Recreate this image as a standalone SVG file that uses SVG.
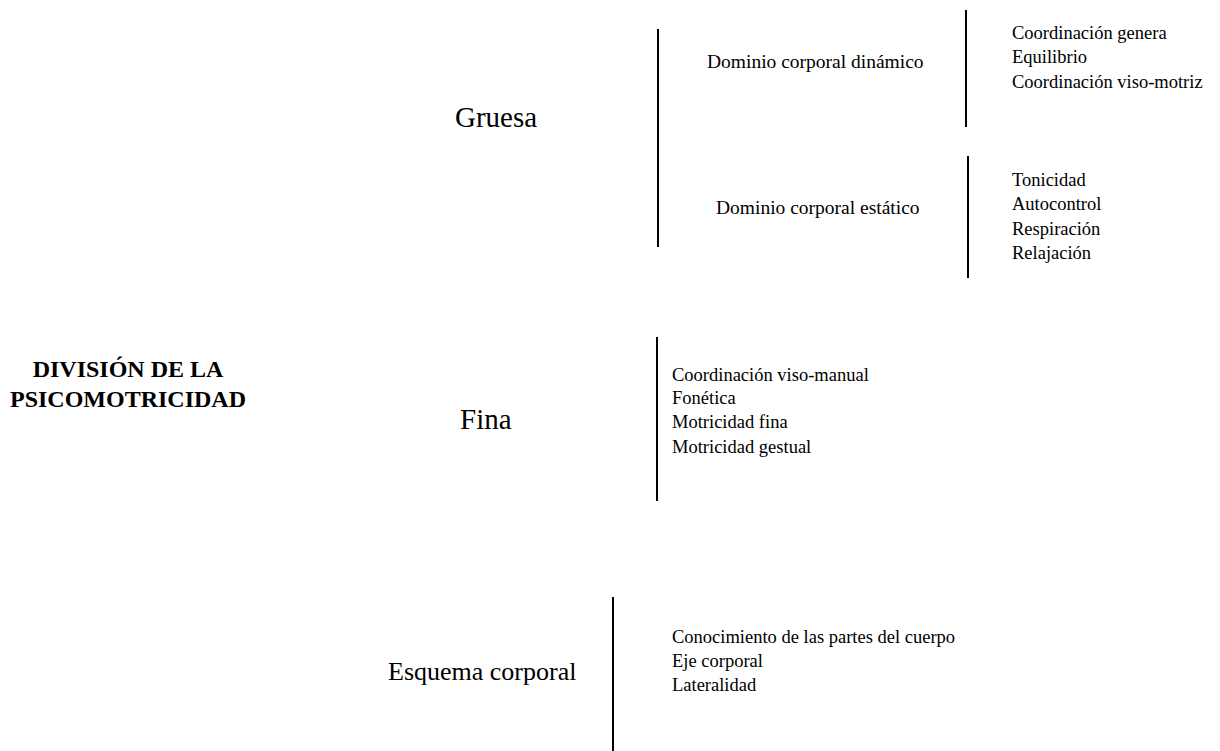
<svg xmlns="http://www.w3.org/2000/svg" width="1220" height="751" viewBox="0 0 1220 751">
<style>
text{font-family:"Liberation Serif","Times New Roman",serif;fill:#000}
.big{font-size:29px}
.sm{font-size:18.5px}
.title{font-size:24px;font-weight:bold}
.br{stroke:#000;stroke-width:2;fill:none}
</style>
<rect width="1220" height="751" fill="#fff"/>
<g id="connectors">
<line class="br" x1="658" y1="29" x2="658" y2="247"/>
<line class="br" x1="966" y1="10" x2="966" y2="127"/>
<line class="br" x1="968" y1="156" x2="968" y2="278"/>
<line class="br" x1="657" y1="337" x2="657" y2="501"/>
<line class="br" x1="613" y1="597" x2="613" y2="751"/>
</g>
<g id="title">
<text class="title" x="128" y="377" text-anchor="middle">DIVISIÓN DE LA</text>
<text class="title" x="128" y="407" text-anchor="middle">PSICOMOTRICIDAD</text>
</g>
<g id="gruesa"><text class="big" x="455" y="127">Gruesa</text></g>
<g id="fina"><text class="big" x="460" y="429">Fina</text></g>
<g id="esquema"><text class="big" x="388" y="680" style="font-size:26px">Esquema corporal</text></g>
<g id="dinamico"><text class="sm" x="707" y="68" style="font-size:19.5px">Dominio corporal dinámico</text></g>
<g id="estatico"><text class="sm" x="716" y="214" style="font-size:19.5px">Dominio corporal estático</text></g>
<g id="dinamico-items">
<text class="sm" x="1012" y="39">Coordinación genera</text>
<text class="sm" x="1012" y="63">Equilibrio</text>
<text class="sm" x="1012" y="88">Coordinación viso-motriz</text>
</g>
<g id="estatico-items">
<text class="sm" x="1012" y="186">Tonicidad</text>
<text class="sm" x="1012" y="210">Autocontrol</text>
<text class="sm" x="1012" y="235">Respiración</text>
<text class="sm" x="1012" y="259">Relajación</text>
</g>
<g id="fina-items">
<text class="sm" x="672" y="381">Coordinación viso-manual</text>
<text class="sm" x="672" y="404">Fonética</text>
<text class="sm" x="672" y="428">Motricidad fina</text>
<text class="sm" x="672" y="453">Motricidad gestual</text>
</g>
<g id="esquema-items">
<text class="sm" x="672" y="643">Conocimiento de las partes del cuerpo</text>
<text class="sm" x="672" y="667">Eje corporal</text>
<text class="sm" x="672" y="691">Lateralidad</text>
</g>
</svg>
